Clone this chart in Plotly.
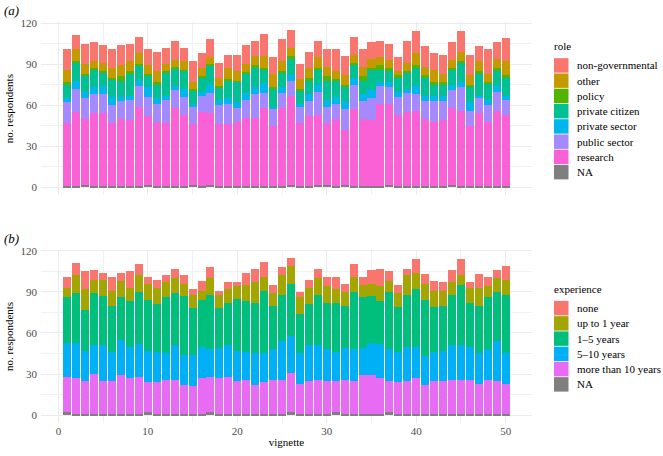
import plotly.graph_objects as go
from plotly.subplots import make_subplots

vignette = list(range(1, 51))

# ---- panel (a): role ----
role_labels = ["NA", "research", "public sector", "private sector",
               "private citizen", "policy", "other", "non-governmental"]
role_colors = ["#7F7F7F", "#FB61D7", "#A58AFF", "#00B6EB",
               "#00C094", "#53B400", "#C49A00", "#F8766D"]
role_na = [1,1,2,1,1,1,1,1,1,2, 1,1,1,1,2,1,2,1,1,1, 1,1,1,1,1,2,1,1,2,2,
           1,2,1,1,1,1,2,1,1,1, 1,1,1,2,1,1,1,1,1,1]
research = [46,54,48,53,53,46,49,48,58,50, 47,46,57,52,44,54,52,45,45,47,
            50,50,57,44,57,65,46,51,51,45, 49,40,56,49,48,60,59,52,54,55,
            49,47,48,56,55,44,53,47,55,52]
public_sector = [15,17,15,14,14,13,13,15,15,14, 13,17,13,13,13,12,15,14,15,10,
                 13,17,11,12,11,11,12,11,17,12, 11,15,18,13,16,13,12,13,14,12,
                 13,15,14,13,17,11,11,12,14,11]
private_sector = [3,6,5,5,6,6,3,3,4,7, 4,3,3,6,2,3,6,4,4,4, 5,5,7,2,4,4,2,5,5,5,
                  5,6,5,5,6,3,4,4,3,6, 4,4,4,4,4,6,2,4,4,3]
private_citizen = [10,13,11,13,10,13,12,16,11,8, 10,17,13,13,10,10,14,9,13,15,
                   14,14,10,13,11,12,10,10,11,14, 12,11,9,10,15,9,8,10,12,13,
                   13,8,8,11,14,12,16,12,11,13]
policy = [2,1,2,1,1,1,3,2,1,2, 2,1,1,1,1,1,1,1,1,1, 1,2,1,1,1,2,1,2,1,3,
          1,1,2,3,1,3,2,2,1,2, 2,2,2,1,1,1,2,1,2,2]
other = [9,9,7,5,6,7,8,7,8,6, 8,5,5,6,5,6,5,6,8,7, 6,7,9,10,7,6,7,7,8,7,
         6,7,6,7,7,6,6,3,6,9, 6,9,6,6,7,7,7,6,7,10]
non_governmental = [15,10,15,14,13,14,15,13,12,12, 14,12,14,10,15,11,13,11,10,12,
                    14,11,16,12,16,13,11,12,12,13, 16,14,13,13,12,12,12,10,16,16,
                    15,12,14,13,15,15,11,18,12,17]
role_values = [role_na, research, public_sector, private_sector,
               private_citizen, policy, other, non_governmental]

# ---- panel (b): experience ----
exp_labels = ["NA", "more than 10 years", "5\u201310 years", "1\u20135 years",
              "up to 1 year", "none"]
exp_colors = ["#7F7F7F", "#E76BF3", "#00B0F6", "#00BF7D", "#A3A500", "#F8766D"]
exp_na = [2,1,1,1,1,1,1,1,1,2, 1,1,1,1,1,1,2,1,1,1, 1,1,1,1,1,2,1,1,1,1,
          2,1,1,1,1,1,2,1,1,1, 1,1,1,1,1,1,1,1,1,1]
more_than_10 = [26,26,24,29,24,24,28,26,27,22, 23,25,25,21,20,26,26,26,27,24,
                25,21,23,25,25,29,22,24,25,24, 23,25,24,28,28,26,23,23,24,26,
                21,24,24,25,25,25,22,25,24,22]
years_5_10 = [25,26,22,21,26,21,26,23,24,23, 22,19,25,22,23,23,20,22,23,22,
              20,23,21,22,28,27,22,26,25,23, 21,23,23,20,24,25,23,22,25,23,
              21,21,22,25,25,24,22,22,29,22]
years_1_5 = [33,36,30,38,36,34,31,33,38,37, 35,41,38,43,34,34,40,29,31,38,
             37,37,46,32,34,38,29,30,37,34, 36,31,42,37,34,31,42,33,38,42,
             41,33,33,37,44,32,35,38,36,43]
up_to_1 = [7,13,15,10,12,11,12,10,12,12, 12,11,11,9,10,7,12,10,10,9,
           12,15,10,9,14,13,12,12,12,12, 10,10,11,9,9,11,8,10,14,12,
           12,12,11,9,7,11,13,8,10,11]
none_exp = [8,9,13,7,5,10,6,12,8,5, 6,5,7,6,4,7,8,3,5,3, 9,10,11,6,6,6,4,6,7,7,
            9,6,9,6,10,13,7,6,5,10, 7,7,6,9,12,4,10,7,6,10]
exp_values = [exp_na, more_than_10, years_5_10, years_1_5, up_to_1, none_exp]

x_ticks = [0, 10, 20, 30, 40, 50]
y_ticks = [0, 30, 60, 90, 120]

FONT = "Liberation Serif, Times New Roman, serif"

W, H = 663, 456
ML, MR, MT, MB = 41, 131, 22, 33
PW, PH = W - ML - MR, H - MT - MB


def px_x(p):
    return (p - ML) / PW


def px_y(p):
    return 1 - (p - MT) / PH


fig = make_subplots(rows=2, cols=1)

for lab, col, vals in zip(role_labels, role_colors, role_values):
    fig.add_trace(go.Bar(x=vignette, y=vals, name=lab, marker_color=col,
                         marker_line_width=0, showlegend=False), row=1, col=1)
for lab, col, vals in zip(exp_labels, exp_colors, exp_values):
    fig.add_trace(go.Bar(x=vignette, y=vals, name=lab, marker_color=col,
                         marker_line_width=0, showlegend=False), row=2, col=1)

grid = dict(showgrid=True, gridcolor="#EBEBEB", gridwidth=1, zeroline=False,
            showline=False, ticks="", automargin=False,
            tickfont=dict(family=FONT, size=11, color="#4D4D4D"))

xrange = [-1.945, 52.945]
yrange = [-5.75, 120.75]

fig.update_xaxes(range=xrange, tickvals=x_ticks, **grid,
                 minor=dict(tickvals=[5, 15, 25, 35, 45], showgrid=True,
                            gridcolor="#F1F1F1", gridwidth=0.6))
fig.update_yaxes(range=yrange, tickvals=y_ticks, **grid,
                 minor=dict(tickvals=[15, 45, 75, 105], showgrid=True,
                            gridcolor="#F1F1F1", gridwidth=0.6),
                 title=dict(text="no. respondents", font=dict(family=FONT, size=11, color="#000"),
                            standoff=4),
                 ticklabelstandoff=3)
fig.update_xaxes(showticklabels=False, row=1, col=1)
fig.update_xaxes(title=dict(text="vignette", font=dict(family=FONT, size=11, color="#000"),
                            standoff=2), row=2, col=1)

# legends drawn in ggplot style
shapes = []
annotations = [
    dict(text="<i>(a)</i>", xref="paper", yref="paper", x=px_x(2), y=px_y(10),
         xanchor="left", yanchor="middle", showarrow=False,
         font=dict(family=FONT, size=13, color="#000")),
    dict(text="<i>(b)</i>", xref="paper", yref="paper", x=px_x(2), y=px_y(238),
         xanchor="left", yanchor="middle", showarrow=False,
         font=dict(family=FONT, size=13, color="#000")),
]


def add_legend(title, title_y, first_top, labels, colors):
    annotations.append(dict(text=title, xref="paper", yref="paper", x=px_x(552),
                            y=px_y(title_y), xanchor="left", yanchor="middle",
                            showarrow=False, font=dict(family=FONT, size=11, color="#000")))
    step = 15.25
    for i, (lab, col) in enumerate(zip(reversed(labels), reversed(colors))):
        top = first_top + i * step
        shapes.append(dict(type="rect", xref="paper", yref="paper",
                           x0=px_x(554), x1=px_x(568.5),
                           y0=px_y(top + 0.4), y1=px_y(top + step - 0.4),
                           fillcolor=col, line=dict(width=0)))
        annotations.append(dict(text=lab, xref="paper", yref="paper", x=px_x(574.5),
                                y=px_y(top + step / 2), xanchor="left", yanchor="middle",
                                showarrow=False,
                                font=dict(family=FONT, size=11, color="#000")))


add_legend("role", 46, 57.8, role_labels, role_colors)
add_legend("experience", 289, 300.5, exp_labels, exp_colors)

fig.update_layout(
    width=W, height=H,
    margin=dict(l=ML, r=MR, t=MT, b=MB, autoexpand=False),
    barmode="stack", bargap=0.1,
    plot_bgcolor="white", paper_bgcolor="white",
    font=dict(family=FONT, size=11, color="#000"),
    showlegend=False,
    xaxis=dict(domain=[0, 1], anchor="y"),
    yaxis=dict(domain=[0.568, 1.0], anchor="x"),
    xaxis2=dict(domain=[0, 1], anchor="y2"),
    yaxis2=dict(domain=[0.0, 0.432], anchor="x2"),
    shapes=shapes,
    annotations=annotations,
)

fig.write_html("out.html", config={"displayModeBar": False},
               post_script="document.body.style.margin='0';document.body.style.overflow='hidden';")
